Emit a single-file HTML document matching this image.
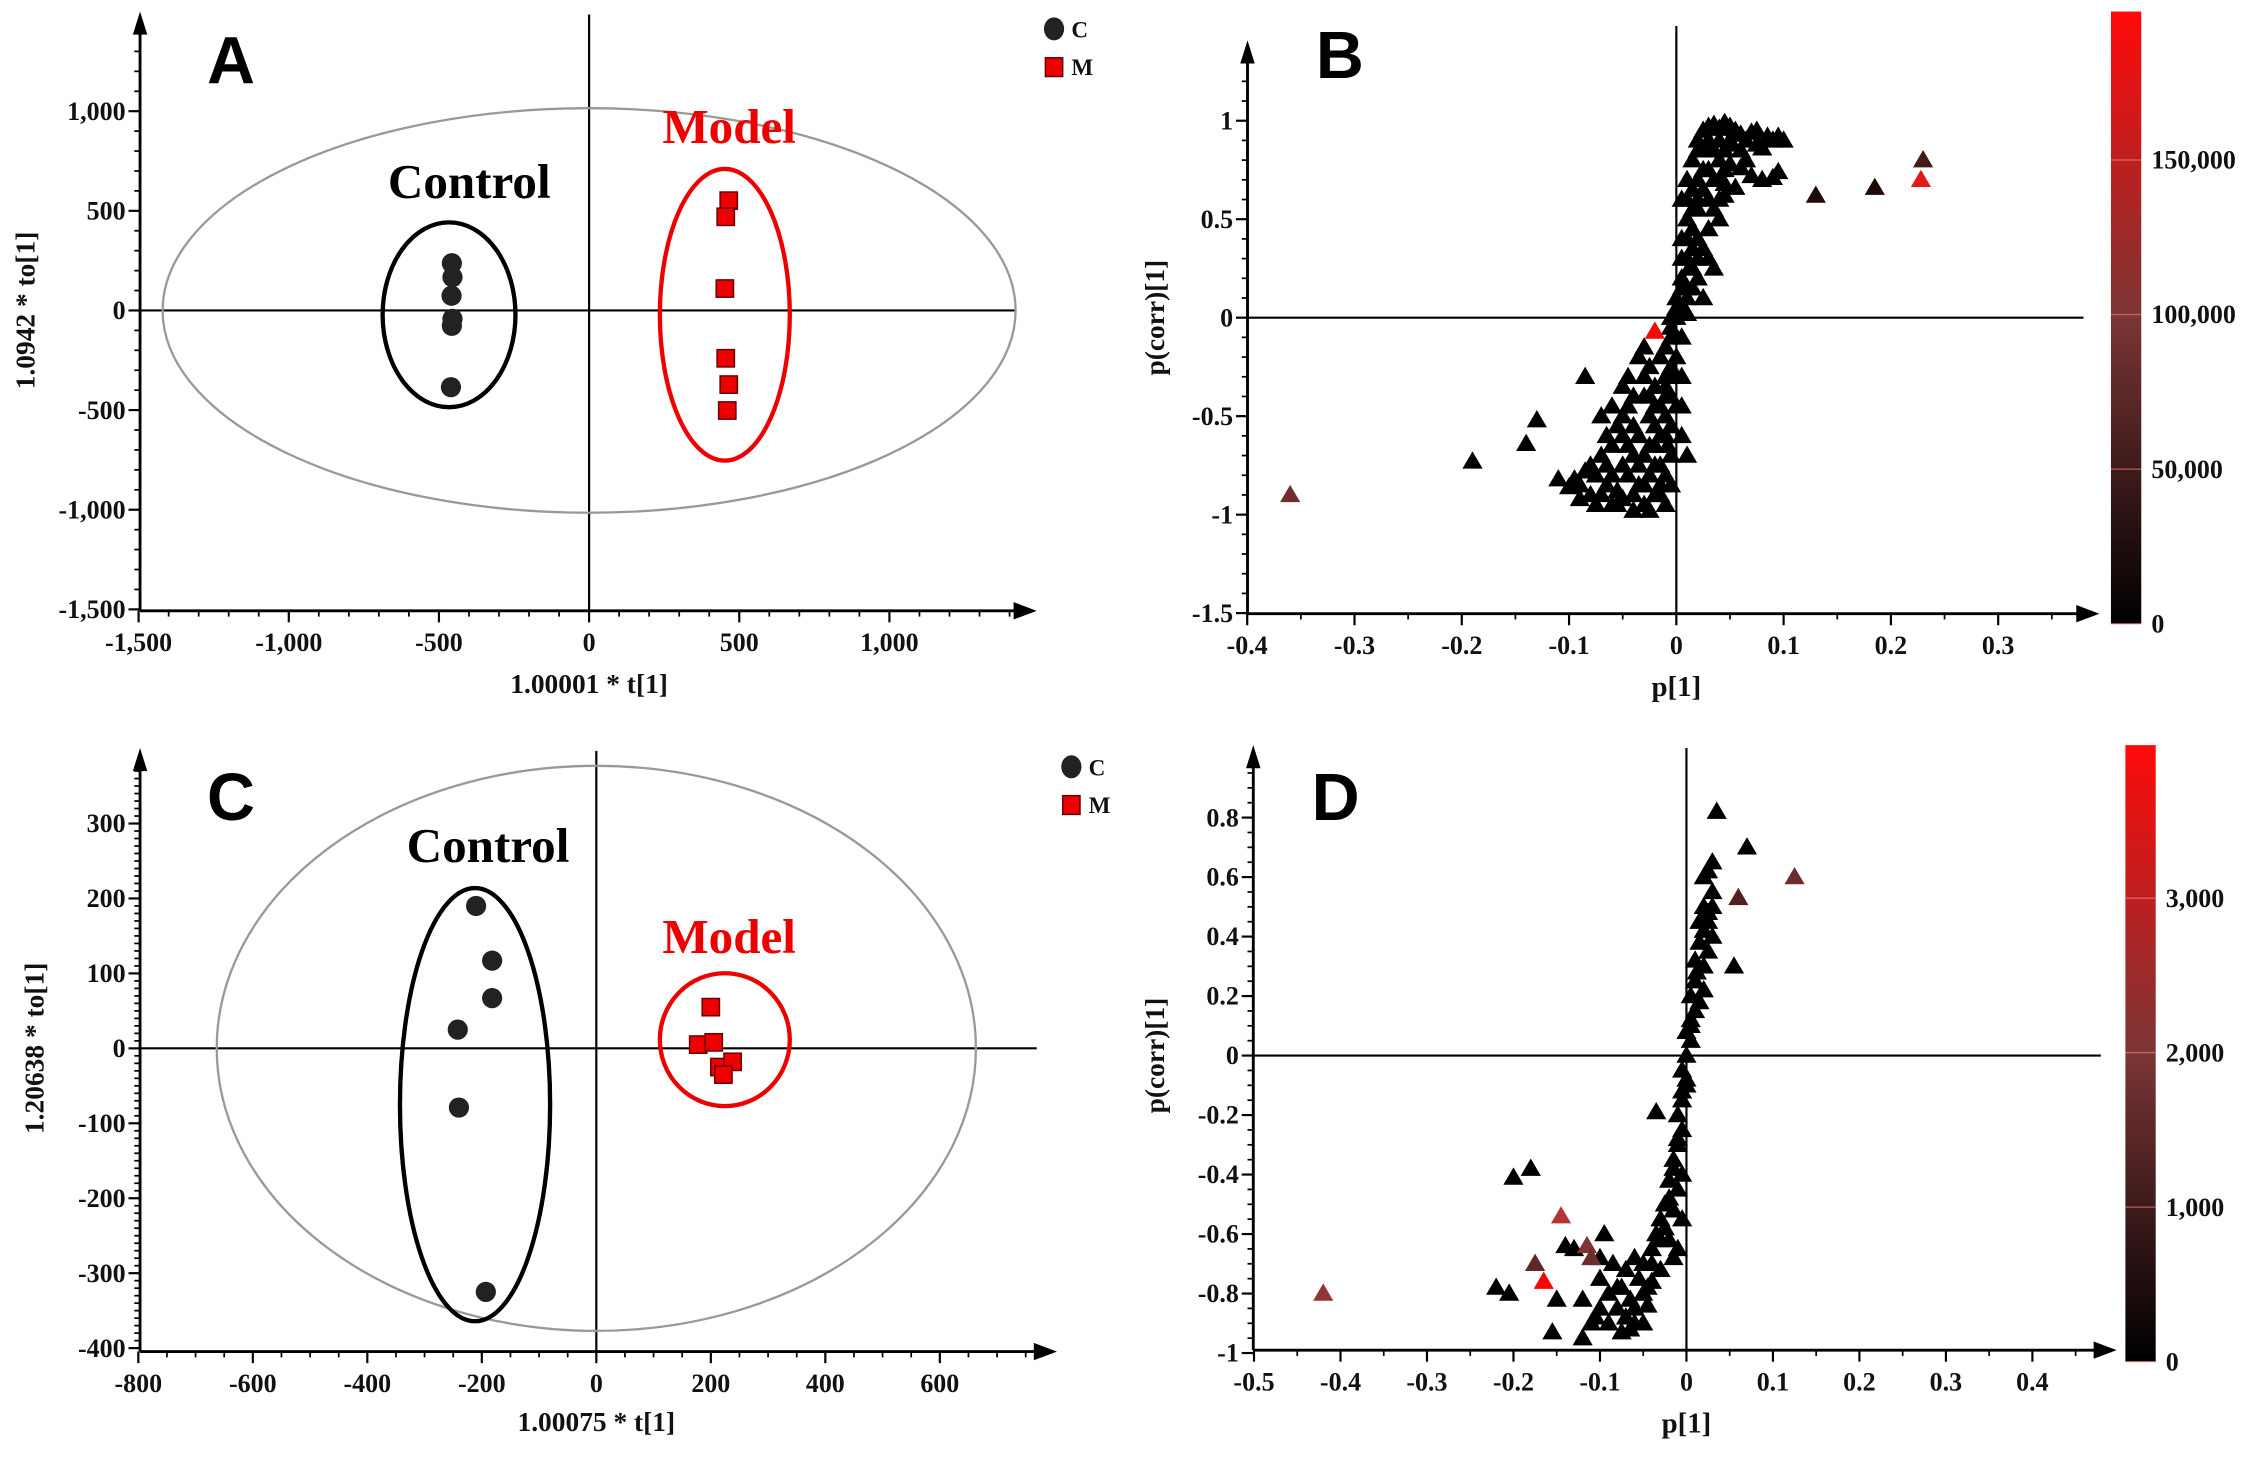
<!DOCTYPE html>
<html><head><meta charset="utf-8"><style>
html,body{margin:0;padding:0;background:#fff}
svg{display:block}
text{font-family:"Liberation Serif",serif;font-weight:bold}
.lt{font-family:"Liberation Sans",sans-serif;font-weight:bold}
</style></head><body>
<svg id="fig" width="2264" height="1457" viewBox="0 0 1568 1009" preserveAspectRatio="none" xmlns="http://www.w3.org/2000/svg"></svg>
<script>
// ---- Panel A data ----
const aCtrlX=[-457,-455,-458,-455,-457,-460];
const aCtrlY=[237,167,74,-42,-77,-385];
const aModX=[465,455,452,455,465,460];
const aModY=[551,470,110,-240,-372,-502];
const aXTicks=[-1500,-1000,-500,0,500,1000];
const aYTicks=[-1500,-1000,-500,0,500,1000];
const aXLabels=["-1,500","-1,000","-500","0","500","1,000"];
const aYLabels=["-1,500","-1,000","-500","0","500","1,000"];
// ---- Panel C data ----
const cCtrlX=[-210,-182,-182,-242,-240,-193];
const cCtrlY=[190,117,67,25,-79,-325];
const cModX=[200,178,205,215,238,222];
const cModY=[55,5,8,-25,-18,-35];
const cXTicks=[-800,-600,-400,-200,0,200,400,600];
const cYTicks=[-400,-300,-200,-100,0,100,200,300];
// ---- Panel B data (p[1], p(corr)[1], intensity) ----
const bX=[-0.36,0.23,0.228,-0.02,0.13,0.185,
0.005,0.01,0.015,0.02,0.025,0.03,0.035,0.04,0.045,0.05,0.055,0.06,0.065,0.07,0.075,0.08,0.085,0.09,0.095,0.1,0.02,0.03,0.04,0.05,0.06,0.04,0.05,0.03,0.035,0.045,0.055,0.07,0.08,0.09,0.095,0.06,0.025,0.02,0.03,0.035,0.04,0.01,0.015,0.005,0.02,0.025,0.03,0.035,0.02,0.015,0.025,0.01,0.005,0.0,0.005,0.0,-0.005,0.01,0.015,0.045,0.065,0.075,0.015,0.02,0.01,0.005,
-0.005,-0.01,-0.015,-0.005,-0.01,-0.02,-0.005,-0.015,-0.025,-0.005,0.005,0.005,-0.01,-0.02,-0.03,-0.015,-0.025,-0.035,-0.02,-0.03,-0.025,-0.04,-0.045,-0.05,-0.055,-0.06,-0.065,-0.07,-0.075,-0.08,-0.085,-0.09,-0.095,-0.1,-0.11,-0.075,-0.065,-0.07,-0.06,-0.055,-0.05,-0.045,-0.04,-0.035,-0.03,-0.03,-0.04,-0.045,-0.06,-0.085,-0.13,-0.14,-0.19,-0.05,-0.035,-0.01,-0.015,-0.04,-0.08,-0.09,-0.02,-0.01,0.0,0.005,-0.025,-0.045,0.008,0.012,-0.008,
-0.005,-0.01,-0.015,-0.02,-0.025,-0.03,-0.035,-0.015,-0.01,-0.02,-0.025,-0.005,0.0,0.005,0.01,-0.005,-0.01,0.005,0.01,0.01,0.015,0.02,0.025,0.025,0.03,0.035,0.04,0.045,0.05,0.015,0.02,0.01,0.0,-0.005,0.03,0.04,0.045,-0.04,-0.05,-0.06,-0.07,-0.05,-0.065,-0.055,-0.03];
const bY=[-0.9,0.8,0.7,-0.07,0.62,0.66,
0.6,0.7,0.8,0.9,0.95,0.97,0.98,0.96,0.99,0.97,0.95,0.93,0.9,0.94,0.88,0.86,0.92,0.9,0.92,0.9,0.85,0.88,0.9,0.88,0.85,0.8,0.78,0.75,0.7,0.68,0.66,0.72,0.7,0.71,0.74,0.76,0.65,0.55,0.6,0.55,0.5,0.5,0.45,0.4,0.4,0.35,0.3,0.25,0.2,0.15,0.1,0.3,0.2,0.1,0.05,0.0,-0.05,0.02,0.35,0.62,0.8,0.95,0.65,0.7,0.6,0.3,
-0.1,-0.15,-0.2,-0.25,-0.3,-0.35,-0.4,-0.45,-0.5,-0.55,-0.45,-0.3,-0.6,-0.65,-0.7,-0.75,-0.8,-0.85,-0.9,-0.95,-0.98,-0.9,-0.8,-0.75,-0.88,-0.95,-0.85,-0.7,-0.8,-0.9,-0.78,-0.85,-0.82,-0.86,-0.82,-0.95,-0.6,-0.5,-0.45,-0.55,-0.35,-0.3,-0.4,-0.2,-0.15,-0.3,-0.55,-0.65,-0.65,-0.3,-0.52,-0.64,-0.73,-0.92,-0.6,-0.5,-0.85,-0.98,-0.75,-0.92,-0.55,-0.4,-0.2,-0.1,-0.25,-0.45,0.15,0.25,-0.65,
-0.7,-0.8,-0.9,-0.75,-0.65,-0.85,-0.75,-0.6,-0.35,-0.45,-0.4,-0.3,-0.45,-0.6,-0.7,-0.85,-0.95,0.15,0.15,0.4,0.55,0.6,0.75,0.85,0.9,0.85,0.7,0.85,0.9,0.25,0.3,0.1,0.05,0.0,0.45,0.6,0.75,-0.7,-0.6,-0.8,-0.9,-0.5,-0.75,-0.95,-0.4];
const bV=[60000,30000,170000,190000,10000,10000];
const bXTicks=[-0.4,-0.3,-0.2,-0.1,0,0.1,0.2,0.3];
const bYTicks=[-1.5,-1,-0.5,0,0.5,1];
const bCbTicks=[0,50000,100000,150000];
const bCbLabels=["0","50,000","100,000","150,000"];
// ---- Panel D data ----
const dX=[-0.42,-0.145,-0.165,-0.115,-0.11,-0.175,0.125,0.06,
0.035,0.07,0.03,0.025,0.02,0.03,0.02,0.025,0.015,0.02,0.03,0.015,0.025,0.01,0.02,0.055,0.01,0.02,0.005,0.015,0.005,0.0,0.005,0.0,-0.005,0.0,-0.005,-0.01,-0.035,-0.005,-0.01,-0.015,-0.005,-0.02,-0.01,-0.025,-0.015,-0.005,-0.03,-0.035,-0.02,-0.01,-0.04,-0.05,-0.03,-0.06,-0.07,-0.075,-0.05,-0.04,-0.08,-0.09,-0.1,-0.095,-0.1,-0.12,-0.105,-0.09,-0.07,-0.06,-0.05,-0.075,-0.12,-0.155,-0.15,-0.13,-0.14,-0.2,-0.18,-0.22,-0.205,-0.085,-0.065,-0.055,-0.045,-0.025,-0.015,-0.065,-0.1,-0.11,0.025,0.03,0.012,
0.005,0.01,0.0,-0.005,-0.01,-0.015,-0.02,-0.03,-0.04,-0.045,-0.06,-0.08];
const dY=[-0.8,-0.54,-0.76,-0.64,-0.68,-0.7,0.6,0.53,
0.82,0.7,0.65,0.62,0.6,0.55,0.5,0.48,0.45,0.42,0.4,0.38,0.35,0.32,0.3,0.3,0.25,0.22,0.2,0.18,0.12,0.08,0.05,0.0,-0.05,-0.1,-0.15,-0.2,-0.19,-0.25,-0.3,-0.35,-0.4,-0.42,-0.45,-0.5,-0.52,-0.55,-0.55,-0.6,-0.62,-0.65,-0.65,-0.7,-0.72,-0.68,-0.72,-0.78,-0.8,-0.76,-0.85,-0.8,-0.75,-0.6,-0.68,-0.82,-0.88,-0.9,-0.88,-0.9,-0.9,-0.93,-0.95,-0.93,-0.82,-0.65,-0.64,-0.41,-0.38,-0.78,-0.8,-0.7,-0.82,-0.75,-0.84,-0.58,-0.68,-0.92,-0.85,-0.9,0.45,0.5,0.28,
0.1,0.15,-0.08,-0.12,-0.28,-0.38,-0.48,-0.62,-0.7,-0.78,-0.85,-0.78];
const dV=[1800,2500,3900,1500,1200,1000,1200,800];
const dXTicks=[-0.5,-0.4,-0.3,-0.2,-0.1,0,0.1,0.2,0.3,0.4];
const dYTicks=[-1,-0.8,-0.6,-0.4,-0.2,0,0.2,0.4,0.6,0.8];
const dCbTicks=[0,1000,2000,3000];
const dCbLabels=["0","1,000","2,000","3,000"];

const svg=document.getElementById('fig');
const NS="http://www.w3.org/2000/svg";
function mk(tag,attrs,parent){const e=document.createElementNS(NS,tag);for(const k in attrs)e.setAttribute(k,attrs[k]);(parent||svg).appendChild(e);return e;}
function txt(s,x,y,size,anchor,parent,fill,cls){const t=mk('text',{x:x,y:y,'font-size':size,'text-anchor':anchor||'middle',fill:fill||'#111'},parent);if(cls)t.setAttribute('class',cls);t.textContent=s;return t;}
function fmt(v){return (Math.round(v*10)/10).toString();}

function axes(g,o){
  mk('line',{x1:o.ax,y1:o.ay,x2:o.xEnd,y2:o.ay,stroke:'#000','stroke-width':2},g);
  mk('polygon',{points:`${o.xEnd+14},${o.ay} ${o.xEnd-2},${o.ay-6} ${o.xEnd-2},${o.ay+6}`,fill:'#000'},g);
  mk('line',{x1:o.ax,y1:o.ay,x2:o.ax,y2:o.yTop,stroke:'#000','stroke-width':2},g);
  mk('polygon',{points:`${o.ax},${o.yTop-14} ${o.ax-5},${o.yTop+2} ${o.ax+5},${o.yTop+2}`,fill:'#000'},g);
  const xt=o.xTicks, yt=o.yTicks;
  const dx=xt[1]-xt[0], dy=yt[1]-yt[0];
  for(let v=xt[0];o.sx(v)<o.xEnd;v+=dx/o.xMinor){mk('line',{x1:o.sx(v),y1:o.ay,x2:o.sx(v),y2:o.ay+4,stroke:'#000','stroke-width':1.2},g);}
  for(let v=yt[0];o.sy(v)>o.yTop;v+=dy/o.yMinor){mk('line',{x1:o.ax,y1:o.sy(v),x2:o.ax-4,y2:o.sy(v),stroke:'#000','stroke-width':1.2},g);}
  xt.forEach((v,i)=>{mk('line',{x1:o.sx(v),y1:o.ay,x2:o.sx(v),y2:o.ay+8,stroke:'#000','stroke-width':1.5},g);
    const t=txt(o.xLab?o.xLab[i]:fmt(v),o.sx(v),o.ay+28,18,'middle',g);
    });
  yt.forEach((v,i)=>{mk('line',{x1:o.ax,y1:o.sy(v),x2:o.ax-8,y2:o.sy(v),stroke:'#000','stroke-width':1.5},g);
    const t=txt(o.yLab?o.yLab[i]:fmt(v),o.ax-10,o.sy(v)+6,18,'end',g);
    });
}
function group(name){const g=mk('g',{});return g;}
function legend(g,x,y){
  const c=mk('ellipse',{cx:x,cy:y,rx:7,ry:8,fill:'#222'},g);
  const t1=txt('C',x+12,y+6,16,'start',g);
  const s=mk('rect',{x:x-6,y:y+20,width:12,height:13,fill:'#e00',stroke:'#600','stroke-width':1},g);
  const t2=txt('M',x+12,y+32,16,'start',g);
}
function scorePlot(g,o,cx,cy,mx,my,big,ce,me,labels){
  axes(g,o);
  const z0x=o.sx(0), z0y=o.sy(0);
  mk('line',{x1:z0x,y1:o.zTop,x2:z0x,y2:o.ay,stroke:'#000','stroke-width':1.5},g);
  mk('line',{x1:o.ax,y1:z0y,x2:o.xEnd,y2:z0y,stroke:'#000','stroke-width':1.5},g);
  const e=mk('ellipse',{cx:z0x,cy:z0y,rx:o.sx(big[0])-z0x,ry:z0y-o.sy(big[1]),fill:'none',stroke:'#999','stroke-width':1.6},g);
  
  const e1=mk('ellipse',{cx:ce[0],cy:ce[1],rx:ce[2],ry:ce[3],fill:'none',stroke:'#000','stroke-width':3},g);
  
  const e2=mk('ellipse',{cx:me[0],cy:me[1],rx:me[2],ry:me[3],fill:'none',stroke:'#e00','stroke-width':3},g);
  
  cx.forEach((v,i)=>{const p=mk('circle',{cx:o.sx(v),cy:o.sy(cy[i]),r:7,fill:'#222'},g);
    });
  mx.forEach((v,i)=>{const p=mk('rect',{x:o.sx(v)-6,y:o.sy(my[i])-6,width:12,height:12,fill:'#e00',stroke:'#600','stroke-width':1},g);
    });
  const a=txt(labels.letter,labels.lp[0],labels.lp[1],46,'middle',g,'#000','lt');
  const c=txt('Control',labels.cp[0],labels.cp[1],34,'middle',g,'#000');
  const m=txt('Model',labels.mp[0],labels.mp[1],34,'middle',g,'#e00');
  const xt=txt(labels.xt,z0x,labels.xty,19,'middle',g);
  const yt=txt(labels.yt,0,0,19,'middle',g);yt.setAttribute('transform',`translate(${labels.ytx},${z0y}) rotate(-90)`);
  
}
function col(v,max){const f=Math.max(0,Math.min(1,v/max));const h=Math.pow(f,0.7);const gb=Math.round(55*Math.sin(Math.PI*f));return `rgb(${Math.round(255*h)},${gb},${gb})`;}
function loadPlot(g,o,X,Y,V,max,cb,cbT,cbL,labels){
  axes(g,o);
  const z0x=o.sx(0), z0y=o.sy(0);
  mk('line',{x1:z0x,y1:o.zTop,x2:z0x,y2:o.ay,stroke:'#000','stroke-width':1.5},g);
  mk('line',{x1:o.ax,y1:z0y,x2:o.xEnd+3,y2:z0y,stroke:'#000','stroke-width':1.5},g);
  for(let pass=0;pass<2;pass++){
  X.forEach((v,i)=>{const val=i<V.length?V[i]:0;if((pass===0)!==(i>=V.length))return;
    const px=o.sx(v),py=o.sy(Y[i]);
    const p=mk('polygon',{points:`${px},${py-7} ${px-7},${py+5} ${px+7},${py+5}`,fill:col(val,max)},g);
    });}
  const id='grad'+labels.letter;
  const defs=mk('defs',{},g);const lg=mk('linearGradient',{id:id,x1:0,y1:1,x2:0,y2:0},defs);
  mk('stop',{offset:0,'stop-color':'#000'},lg);mk('stop',{offset:0.5,'stop-color':'#7a3535'},lg);mk('stop',{offset:1,'stop-color':'#ff0a0a'},lg);
  const r=mk('rect',{x:cb.x,y:cb.top,width:cb.w,height:cb.bot-cb.top,fill:`url(#${id})`},g);
  
  const cs=v=>cb.bot-(cb.bot-cb.top)*v/max;
  cbT.forEach((v,i)=>{mk('line',{x1:cb.x,y1:cs(v),x2:cb.x+cb.w,y2:cs(v),stroke:'rgba(255,120,120,0.6)','stroke-width':1},g);
    const t=txt(cbL[i],cb.x+cb.w+7,cs(v)+6,18,'start',g);});
  const a=txt(labels.letter,labels.lp[0],labels.lp[1],46,'middle',g,'#000','lt');
  const xt=txt('p[1]',z0x,labels.xty,20,'middle',g);
  const yt=txt('p(corr)[1]',0,0,19,'middle',g);yt.setAttribute('transform',`translate(${labels.ytx},${z0y}) rotate(-90)`);
  
}

const gA=group('panel-a-score-plot');
const oA={ax:97,ay:423,xEnd:704,yTop:22,zTop:10,sx:v=>408+v*0.208,sy:v=>215-v*0.138,xTicks:aXTicks,yTicks:aYTicks,xLab:aXLabels,yLab:aYLabels,xMinor:5,yMinor:5};
scorePlot(gA,oA,aCtrlX,aCtrlY,aModX,aModY,[1420,1015],[311,218,46,64],[502,218,45,101],
 {letter:'A',lp:[160,58],cp:[325,137],mp:[505,99],xt:'1.00001 * t[1]',xty:480,yt:'1.0942 * to[1]',ytx:24});
legend(gA,730,20);
const gC=group('panel-c-score-plot');
const oC={ax:97,ay:936,xEnd:718,yTop:532,zTop:520,sx:v=>413+v*0.3965,sy:v=>726-v*0.519,xTicks:cXTicks,yTicks:cYTicks,xMinor:4,yMinor:10};
scorePlot(gC,oC,cCtrlX,cCtrlY,cModX,cModY,[663,377],[329,765,52,150],[502,720,45,46],
 {letter:'C',lp:[160,568],cp:[338,597],mp:[505,660],xt:'1.00075 * t[1]',xty:991,yt:'1.20638 * to[1]',ytx:30});
legend(gC,742,531);
const gB=group('panel-b-loading-plot');
const oB={ax:864,ay:425,xEnd:1440,yTop:42,zTop:18,sx:v=>1161+v*743,sy:v=>220-v*136.4,xTicks:bXTicks,yTicks:bYTicks,xMinor:2,yMinor:5};
loadPlot(gB,oB,bX,bY,bV,198000,{x:1462,w:21,top:8,bot:432},bCbTicks,bCbLabels,{letter:'B',lp:[928,54],xty:482,ytx:806});
const gD=group('panel-d-loading-plot');
const oD={ax:868,ay:935,xEnd:1452,yTop:530,zTop:518,sx:v=>1168+v*599,sy:v=>731-v*206,xTicks:dXTicks,yTicks:dYTicks,xMinor:2,yMinor:4};
loadPlot(gD,oD,dX,dY,dV,3990,{x:1472,w:21,top:516,bot:943},dCbTicks,dCbLabels,{letter:'D',lp:[925,568],xty:992,ytx:806});
</script>
</body></html>
